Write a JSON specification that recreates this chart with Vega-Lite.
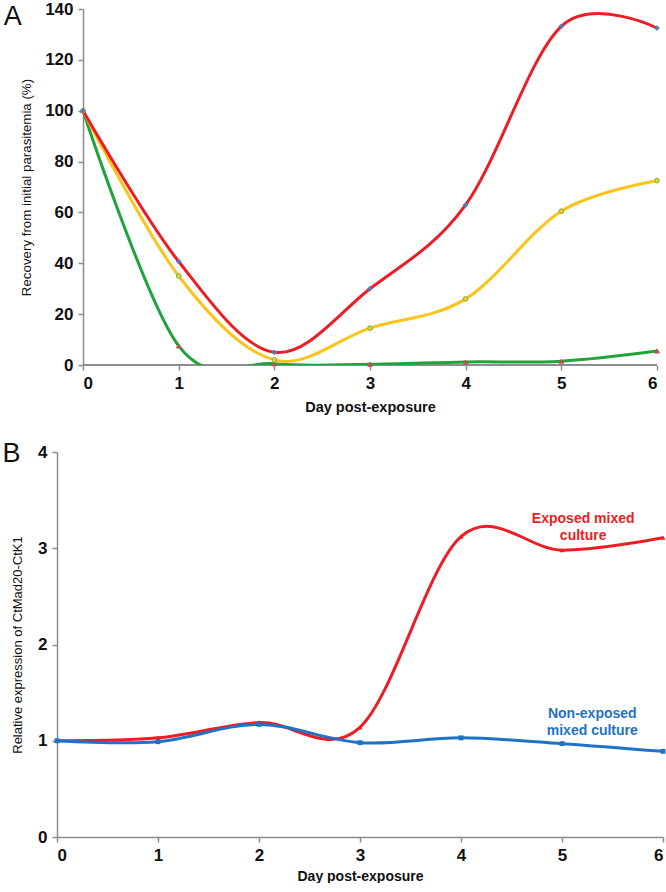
{
  "$schema": "https://vega.github.io/schema/vega-lite/v6.json",
  "padding": {"left": 2, "top": 0, "right": 0, "bottom": 0},
  "spacing": 26,
  "resolve": {"scale": {"color": "independent", "fill": "independent", "stroke": "independent", "shape": "independent"}},
  "config": {
    "view": {"stroke": null},
    "font": "Liberation Sans",
    "axis": {
      "grid": false,
      "domainColor": "#8c8c8c",
      "domainWidth": 1.5,
      "tickColor": "#8c8c8c",
      "tickWidth": 1.5,
      "tickSize": 5,
      "labelFont": "Liberation Sans",
      "labelFontWeight": "bold",
      "labelFontSize": 17,
      "labelColor": "#111111",
      "titleFont": "Liberation Sans",
      "titleColor": "#111111"
    },
    "title": {"font": "Liberation Sans", "color": "#111111"}
  },
  "vconcat": [
    {
      "width": 600,
      "height": 356,
      "title": {"text": "A", "anchor": "start", "frame": "bounds", "fontSize": 27, "fontWeight": "normal", "offset": -31, "dx": -16},
      "data": {"values": [
        {"series": "s1", "day": 0, "value": 100},
        {"series": "s1", "day": 1, "value": 7.5},
        {"series": "s1", "day": 2, "value": 0.5},
        {"series": "s1", "day": 3, "value": 0.3},
        {"series": "s1", "day": 4, "value": 1.2},
        {"series": "s1", "day": 5, "value": 1.5},
        {"series": "s1", "day": 6, "value": 5.5},
        {"series": "s2", "day": 0, "value": 100},
        {"series": "s2", "day": 1, "value": 35},
        {"series": "s2", "day": 2, "value": 2},
        {"series": "s2", "day": 3, "value": 14.5},
        {"series": "s2", "day": 4, "value": 26},
        {"series": "s2", "day": 5, "value": 60.5},
        {"series": "s2", "day": 6, "value": 72.5},
        {"series": "s3", "day": 0, "value": 100},
        {"series": "s3", "day": 1, "value": 40.7},
        {"series": "s3", "day": 2, "value": 5},
        {"series": "s3", "day": 3, "value": 30},
        {"series": "s3", "day": 4, "value": 63},
        {"series": "s3", "day": 5, "value": 133.2},
        {"series": "s3", "day": 6, "value": 132.5}
      ]},
      "encoding": {
        "x": {"field": "day", "type": "quantitative", "scale": {"domain": [0, 6], "range": [26, 600], "nice": false},
              "axis": {"values": [0, 1, 2, 3, 4, 5, 6], "domain": false, "title": "Day post-exposure", "titleFontSize": 14.5, "titleFontWeight": "bold", "labelPadding": 5, "titlePadding": 9}},
        "y": {"field": "value", "type": "quantitative", "scale": {"domain": [0, 140], "nice": false},
              "axis": {"values": [0, 20, 40, 60, 80, 100, 120, 140], "offset": -26, "title": "Recovery from initial parasitemia (%)", "titleFontSize": 13.3, "titleFontWeight": "normal", "labelPadding": 5, "titlePadding": 11}}
      },
      "layer": [
        {
          "mark": {"type": "rule", "color": "#8c8c8c", "strokeWidth": 1.5},
          "encoding": {"x": {"datum": 0}, "x2": {"datum": 6}, "y": {"datum": 0}}
        },
        {
          "mark": {"type": "line", "interpolate": "cardinal", "strokeWidth": 3, "clip": true},
          "encoding": {"color": {"field": "series", "type": "nominal", "scale": {"domain": ["s1", "s2", "s3"], "range": ["#1fa33a", "#fcc419", "#ee1c24"]}, "legend": null}}
        },
        {
          "mark": {"type": "point", "filled": true, "opacity": 1, "strokeWidth": 1},
          "encoding": {
            "fill": {"field": "series", "type": "nominal", "scale": {"domain": ["s1", "s2", "s3"], "range": ["#c0504d", "#e2d52a", "#5a78b8"]}, "legend": null},
            "stroke": {"field": "series", "type": "nominal", "scale": {"domain": ["s1", "s2", "s3"], "range": ["#c0504d", "#8aac3a", "#5a78b8"]}, "legend": null},
            "shape": {"field": "series", "type": "nominal", "scale": {"domain": ["s1", "s2", "s3"], "range": ["triangle-up", "circle", "diamond"]}, "legend": null},
            "size": {"value": 22}
          }
        }
      ]
    },
    {
      "width": 606,
      "height": 385,
      "title": {"text": "B", "anchor": "start", "frame": "bounds", "fontSize": 27, "fontWeight": "normal", "offset": -25, "dx": -9},
      "encoding": {
        "x": {"field": "day", "type": "quantitative", "scale": {"domain": [0, 6], "nice": false},
              "axis": {"values": [0, 1, 2, 3, 4, 5, 6], "title": "Day post-exposure", "titleFontSize": 14, "titleFontWeight": "bold", "labelPadding": 5, "titlePadding": 6}},
        "y": {"field": "value", "type": "quantitative", "scale": {"domain": [0, 4], "nice": false},
              "axis": {"values": [0, 1, 2, 3, 4], "title": "Relative expression of CtMad20-CtK1", "titleFontSize": 13, "titleFontWeight": "normal", "labelPadding": 5, "titlePadding": 13}}
      },
      "layer": [
        {
          "data": {"name": "b"},
          "mark": {"type": "line", "interpolate": "cardinal", "strokeWidth": 3, "clip": true},
          "encoding": {"color": {"field": "series", "type": "nominal", "scale": {"domain": ["exposed", "nonexposed"], "range": ["#ee1c24", "#1f72c4"]}, "legend": null}}
        },
        {
          "data": {"name": "b"},
          "mark": {"type": "point", "filled": true, "opacity": 1},
          "encoding": {
            "color": {"field": "series", "type": "nominal", "legend": null},
            "shape": {"field": "series", "type": "nominal", "scale": {"domain": ["exposed", "nonexposed"], "range": ["triangle-up", "square"]}, "legend": null},
            "size": {"value": 24}
          }
        },
        {
          "data": {"values": [
            {"series": "exposed", "day": 5.21, "value": 3.3, "label": ["Exposed mixed", "culture"]},
            {"series": "nonexposed", "day": 5.3, "value": 1.28, "label": ["Non-exposed", "mixed culture"]}
          ]},
          "mark": {"type": "text", "fontWeight": "bold", "fontSize": 14, "lineHeight": 17, "align": "center", "baseline": "middle"},
          "encoding": {
            "text": {"field": "label"},
            "color": {"field": "series", "type": "nominal", "legend": null}
          }
        }
      ]
    }
  ],
  "datasets": {
    "b": [
      {"series": "exposed", "day": 0, "value": 1.0},
      {"series": "exposed", "day": 1, "value": 1.03},
      {"series": "exposed", "day": 2, "value": 1.19},
      {"series": "exposed", "day": 3, "value": 1.14},
      {"series": "exposed", "day": 4, "value": 3.12},
      {"series": "exposed", "day": 5, "value": 2.98},
      {"series": "exposed", "day": 6, "value": 3.11},
      {"series": "nonexposed", "day": 0, "value": 1.0},
      {"series": "nonexposed", "day": 1, "value": 0.99},
      {"series": "nonexposed", "day": 2, "value": 1.17},
      {"series": "nonexposed", "day": 3, "value": 0.98},
      {"series": "nonexposed", "day": 4, "value": 1.03},
      {"series": "nonexposed", "day": 5, "value": 0.97},
      {"series": "nonexposed", "day": 6, "value": 0.89}
    ]
  }
}
